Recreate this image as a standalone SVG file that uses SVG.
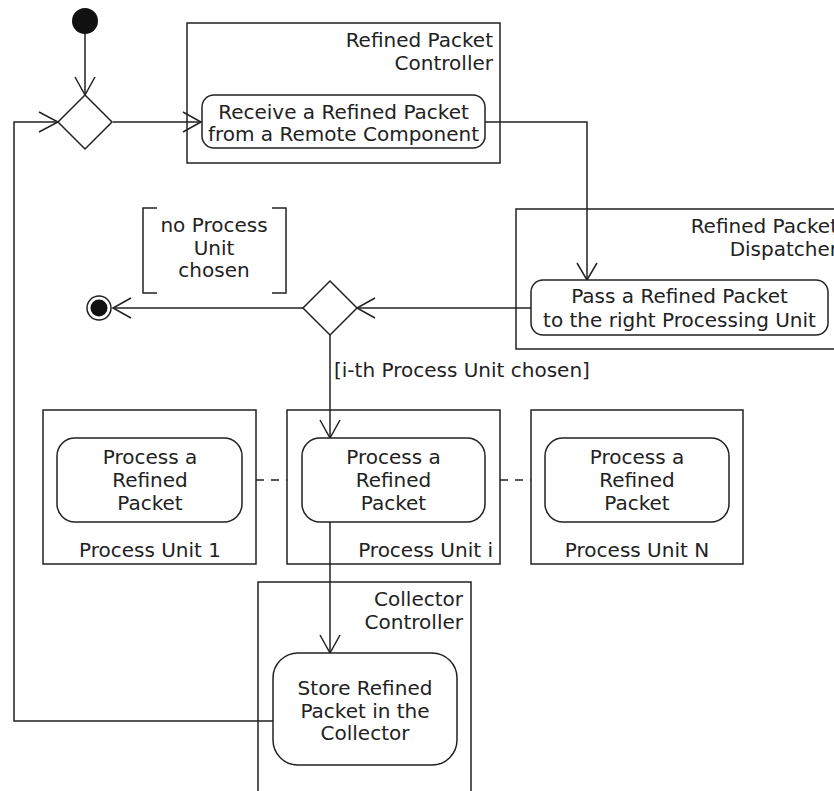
<svg xmlns="http://www.w3.org/2000/svg" width="834" height="791" viewBox="0 0 834 791">
<style>
  text { font-family: "DejaVu Sans", "Liberation Sans", sans-serif; font-size: 20px; fill: #222; }
  .c { text-anchor: middle; }
  .r { text-anchor: end; }
  .frame { fill: none; stroke: #222; stroke-width: 1.5; }
  .act { fill: #fff; stroke: #222; stroke-width: 1.5; }
  .ln { fill: none; stroke: #222; stroke-width: 1.5; }
  .head { fill: none; stroke: #222; stroke-width: 1.5; }
  .dash { fill: none; stroke: #222; stroke-width: 1.5; stroke-dasharray: 8,7; }
</style>

<g id="partition-controller">
  <rect class="frame" x="187" y="23" width="313" height="140"/>
  <text class="r" x="493" y="47">Refined Packet</text>
  <text class="r" x="493" y="70">Controller</text>
</g>
<g id="partition-dispatcher">
  <rect class="frame" x="516" y="209" width="330" height="140"/>
  <text class="r" x="838" y="233">Refined Packet</text>
  <text class="r" x="838" y="256">Dispatcher</text>
</g>
<g id="partition-pu1">
  <rect class="frame" x="43" y="410" width="213" height="154"/>
  <text class="c" x="150" y="557">Process Unit 1</text>
</g>
<g id="partition-pui">
  <rect class="frame" x="287" y="410" width="213" height="154"/>
  <text class="r" x="493" y="557">Process Unit i</text>
</g>
<g id="partition-pun">
  <rect class="frame" x="531" y="410" width="212" height="154"/>
  <text class="c" x="637" y="557">Process Unit N</text>
</g>
<g id="partition-collector">
  <rect class="frame" x="258" y="582" width="213" height="230"/>
  <text class="r" x="463" y="606">Collector</text>
  <text class="r" x="463" y="629">Controller</text>
</g>

<g id="connectors">
  <line class="ln" x1="85" y1="34" x2="85" y2="95"/>
  <polyline class="head" points="75,77 85,95 95,77"/>
  <line class="ln" x1="113" y1="122" x2="202" y2="122"/>
  <polyline class="head" points="183,112 201,122 183,132"/>
  <polyline class="ln" points="485,122 587,122 587,280"/>
  <polyline class="head" points="577,263 587,280 597,263"/>
  <line class="ln" x1="531" y1="308" x2="357" y2="308"/>
  <polyline class="head" points="375,298 357,308 375,318"/>
  <line class="ln" x1="303" y1="308" x2="113" y2="308"/>
  <polyline class="head" points="131,298 113,308 131,318"/>
  <line class="ln" x1="330" y1="335" x2="330" y2="438"/>
  <polyline class="head" points="320,420 330,438 340,420"/>
  <line class="ln" x1="330" y1="522" x2="330" y2="653"/>
  <polyline class="head" points="320,635 330,653 340,635"/>
  <polyline class="ln" points="273,721 14,721 14,122 58,122"/>
  <polyline class="head" points="39,112 58,122 39,132"/>
  <line class="dash" x1="256" y1="480" x2="287" y2="480"/>
  <line class="dash" x1="500" y1="480" x2="531" y2="480"/>
  <text x="334" y="377">[i-th Process Unit chosen]</text>
  <polyline class="ln" points="157,208 143,208 143,293 157,293"/>
  <polyline class="ln" points="272,208 286,208 286,293 272,293"/>
  <text class="c" x="214" y="232">no Process</text>
  <text class="c" x="214" y="255">Unit</text>
  <text class="c" x="214" y="277">chosen</text>
</g>

<g id="start">
  <circle cx="85" cy="21" r="13" fill="#111"/>
</g>
<g id="merge">
  <polygon class="act" points="85,95 112,122 85,149 58,122"/>
</g>
<g id="receive">
  <rect class="act" x="202" y="95" width="283" height="53" rx="12"/>
  <text class="c" x="343.5" y="119">Receive a Refined Packet</text>
  <text class="c" x="343.5" y="141">from a Remote Component</text>
</g>
<g id="pass">
  <rect class="act" x="531" y="280" width="297" height="55" rx="12"/>
  <text class="c" x="679.5" y="303">Pass a Refined Packet</text>
  <text class="c" x="679.5" y="327">to the right Processing Unit</text>
</g>
<g id="decision">
  <polygon class="act" points="330,281 357,308 330,335 303,308"/>
</g>
<g id="end">
  <circle cx="99" cy="308" r="12" fill="#fff" stroke="#222" stroke-width="1.5"/>
  <circle cx="99" cy="308" r="8.5" fill="#111"/>
</g>
<g id="process1">
  <rect class="act" x="57" y="438" width="185" height="84" rx="18"/>
  <text class="c" x="150" y="464">Process a</text>
  <text class="c" x="150" y="487">Refined</text>
  <text class="c" x="150" y="510">Packet</text>
</g>
<g id="processi">
  <rect class="act" x="302" y="438" width="183" height="84" rx="18"/>
  <text class="c" x="393.5" y="464">Process a</text>
  <text class="c" x="393.5" y="487">Refined</text>
  <text class="c" x="393.5" y="510">Packet</text>
</g>
<g id="processn">
  <rect class="act" x="545" y="438" width="184" height="84" rx="18"/>
  <text class="c" x="637" y="464">Process a</text>
  <text class="c" x="637" y="487">Refined</text>
  <text class="c" x="637" y="510">Packet</text>
</g>
<g id="store">
  <rect class="act" x="273" y="653" width="184" height="112" rx="25"/>
  <text class="c" x="365" y="695">Store Refined</text>
  <text class="c" x="365" y="718">Packet in the</text>
  <text class="c" x="365" y="740">Collector</text>
</g>
</svg>
